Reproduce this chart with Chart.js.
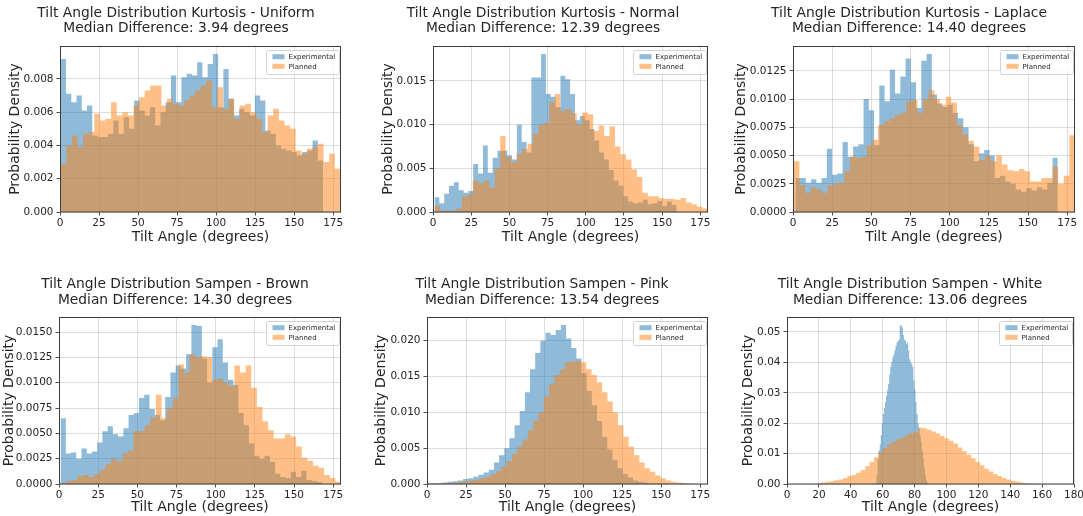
<!DOCTYPE html>
<html><head><meta charset="utf-8">
<script src="https://cdn.jsdelivr.net/npm/chart.js@4.4.1/dist/chart.umd.min.js"></script>
<style>
html,body{margin:0;padding:0;background:#fff;overflow:hidden;width:1083px;height:516px;position:relative;}
canvas{position:absolute;}
</style></head><body>
<script>
// ---------- DATA (histogram densities, 50 bins per series; ranges = [first edge, last edge]) ----------
const seriesLabels = ['Experimental', 'Planned'];

const uniformExpRange = [0.5, 168.5];
const uniformExp = [0.0092,0.0071,0.0066,0.0070,0.0061,0.0064,0.0046,0.0045,0.0045,0.0047,
 0.0055,0.0047,0.0057,0.0050,0.0067,0.0061,0.0058,0.0063,0.0052,0.0060,
 0.0066,0.0082,0.0066,0.0081,0.0083,0.0082,0.0090,0.0081,0.0089,0.0095,
 0.0063,0.0086,0.0068,0.0058,0.0062,0.0060,0.0058,0.0070,0.0067,0.0049,
 0.0047,0.0040,0.0038,0.0037,0.0036,0.0034,0.0036,0.0037,0.0043,0.0031];
const uniformPlanRange = [0.5, 179.6];
const uniformPlan = [0.0029,0.0040,0.0046,0.0039,0.0047,0.0048,0.0059,0.0055,0.0056,0.0066,
 0.0058,0.0060,0.0058,0.0064,0.0069,0.0073,0.0076,0.0076,0.0064,0.0068,
 0.0065,0.0064,0.0067,0.0070,0.0073,0.0076,0.0079,0.0063,0.0075,0.0062,
 0.0068,0.0056,0.0064,0.0065,0.0060,0.0056,0.0048,0.0058,0.0062,0.0055,
 0.0052,0.0050,0.0037,0.0035,0.0038,0.0039,0.0041,0.0030,0.0035,0.0026];

const normalExpRange = [1, 159.5];
const normalExp = [0.0017,0.0010,0.0021,0.0030,0.0034,0.0025,0.0022,0.0024,0.0055,0.0044,
 0.0076,0.0045,0.0062,0.0070,0.0070,0.0065,0.0060,0.0100,0.0080,0.0068,
 0.0154,0.0154,0.0181,0.0135,0.0132,0.0120,0.0156,0.0152,0.0135,0.0105,
 0.0110,0.0105,0.0095,0.0082,0.0068,0.0060,0.0048,0.0036,0.0030,0.0018,
 0.0012,0.0010,0.0011,0.0014,0.0009,0.0010,0.0013,0.0007,0.0012,0.0008];
const normalPlanRange = [1, 180];
const normalPlan = [0.0007,0.0002,0.0001,0.0002,0.0004,0.0018,0.0020,0.0036,0.0033,0.0036,
 0.0028,0.0050,0.0087,0.0063,0.0057,0.0066,0.0072,0.0078,0.0090,0.0100,
 0.0102,0.0126,0.0135,0.0116,0.0118,0.0113,0.0100,0.0114,0.0112,0.0093,
 0.0099,0.0087,0.0098,0.0075,0.0066,0.0060,0.0049,0.0040,0.0022,0.0018,
 0.0018,0.0016,0.0015,0.0015,0.0014,0.0016,0.0011,0.0009,0.0006,0.0004];

const laplaceExpRange = [1.5, 169];
const laplaceExp = [0.0030,0.0030,0.0026,0.0029,0.0026,0.0030,0.0056,0.0033,0.0034,0.0062,
 0.0049,0.0058,0.0060,0.0100,0.0090,0.0059,0.0112,0.0098,0.0126,0.0105,
 0.0120,0.0136,0.0115,0.0092,0.0134,0.0140,0.0104,0.0096,0.0093,0.0095,
 0.0088,0.0083,0.0075,0.0060,0.0045,0.0052,0.0055,0.0050,0.0030,0.0032,
 0.0027,0.0025,0.0020,0.0018,0.0021,0.0019,0.0022,0.0020,0.0026,0.0048];
const laplacePlanRange = [0.5, 180];
const laplacePlan = [0.0045,0.0024,0.0017,0.0022,0.0020,0.0017,0.0024,0.0025,0.0026,0.0036,
 0.0049,0.0048,0.0049,0.0059,0.0064,0.0077,0.0080,0.0083,0.0086,0.0088,
 0.0098,0.0099,0.0088,0.0100,0.0108,0.0100,0.0095,0.0102,0.0097,0.0077,
 0.0069,0.0063,0.0058,0.0046,0.0050,0.0045,0.0050,0.0042,0.0037,0.0036,
 0.0038,0.0036,0.0027,0.0027,0.0030,0.0030,0.0040,0.0025,0.0032,0.0068];

const brownExpRange = [1, 168];
const brownExp = [0.0065,0.0030,0.0031,0.0025,0.0035,0.0030,0.0032,0.0041,0.0052,0.0057,
 0.0049,0.0047,0.0055,0.0068,0.0070,0.0085,0.0088,0.0074,0.0068,0.0063,
 0.0086,0.0110,0.0117,0.0114,0.0128,0.0157,0.0156,0.0124,0.0100,0.0135,
 0.0143,0.0120,0.0103,0.0098,0.0070,0.0058,0.0040,0.0028,0.0025,0.0028,
 0.0022,0.0010,0.0007,0.0006,0.0012,0.0007,0.0013,0.0004,0.0003,0.0002];
const brownPlanRange = [1, 180];
const brownPlan = [0.0001,0.0003,0.0004,0.0008,0.0009,0.0007,0.0010,0.0014,0.0020,0.0025,
 0.0022,0.0030,0.0033,0.0052,0.0052,0.0058,0.0066,0.0088,0.0065,0.0075,
 0.0085,0.0118,0.0110,0.0128,0.0125,0.0126,0.0125,0.0103,0.0104,0.0100,
 0.0097,0.0117,0.0110,0.0117,0.0095,0.0076,0.0062,0.0053,0.0045,0.0045,
 0.0049,0.0047,0.0037,0.0026,0.0023,0.0018,0.0016,0.0009,0.0006,0.0002];

const pinkExpRange = [0, 165];
const pinkExp = [0.0001,0.0001,0.0001,0.0002,0.0003,0.0004,0.0005,0.0007,0.0008,0.0010,
 0.0013,0.0016,0.0020,0.0030,0.0040,0.0050,0.0064,0.0082,0.0102,0.0128,
 0.0160,0.0183,0.0200,0.0211,0.0208,0.0215,0.0222,0.0203,0.0190,0.0175,
 0.0155,0.0130,0.0110,0.0088,0.0066,0.0048,0.0033,0.0022,0.0014,0.0009,
 0.0005,0.0003,0.0002,0.0001,0.0001,0.0001,0.0001,0.0000,0.0000,0.0001];
const pinkPlanRange = [0, 170];
const pinkPlan = [0.0001,0.0001,0.0001,0.0001,0.0001,0.0002,0.0003,0.0004,0.0005,0.0006,
 0.0008,0.0010,0.0014,0.0018,0.0024,0.0032,0.0042,0.0052,0.0062,0.0075,
 0.0088,0.0100,0.0122,0.0140,0.0152,0.0160,0.0170,0.0171,0.0172,0.0170,
 0.0160,0.0152,0.0142,0.0128,0.0115,0.0100,0.0082,0.0066,0.0052,0.0040,
 0.0030,0.0022,0.0017,0.0012,0.0008,0.0005,0.0003,0.0002,0.0001,0.0001];

const whiteExpRange = [55.5, 88.5];
const whiteExp = [0.0005,0.0030,0.0080,0.0110,0.0130,0.0160,0.0200,0.0230,0.0250,0.0270,
 0.0290,0.0310,0.0330,0.0360,0.0385,0.0400,0.0415,0.0425,0.0440,0.0455,
 0.0465,0.0470,0.0475,0.0520,0.0523,0.0515,0.0490,0.0475,0.0470,0.0460,
 0.0465,0.0440,0.0410,0.0400,0.0395,0.0385,0.0340,0.0310,0.0270,0.0230,
 0.0200,0.0185,0.0160,0.0140,0.0110,0.0085,0.0055,0.0030,0.0012,0.0004];
const whitePlanRange = [18.5, 157];
const whitePlan = [0.0003,0.0005,0.0007,0.0009,0.0012,0.0015,0.0020,0.0026,0.0030,0.0037,
 0.0046,0.0058,0.0072,0.0088,0.0105,0.0118,0.0130,0.0140,0.0148,0.0152,
 0.0160,0.0168,0.0170,0.0185,0.0183,0.0178,0.0173,0.0166,0.0158,0.0150,
 0.0142,0.0133,0.0120,0.0108,0.0096,0.0085,0.0072,0.0062,0.0050,0.0041,
 0.0033,0.0026,0.0020,0.0015,0.0011,0.0008,0.0005,0.0003,0.0002,0.0001];

const panelTitles = [
  ['Tilt Angle Distribution Kurtosis - Uniform', 'Median Difference: 3.94 degrees'],
  ['Tilt Angle Distribution Kurtosis - Normal', 'Median Difference: 12.39 degrees'],
  ['Tilt Angle Distribution Kurtosis - Laplace', 'Median Difference: 14.40 degrees'],
  ['Tilt Angle Distribution Sampen - Brown', 'Median Difference: 14.30 degrees'],
  ['Tilt Angle Distribution Sampen - Pink', 'Median Difference: 13.54 degrees'],
  ['Tilt Angle Distribution Sampen - White', 'Median Difference: 13.06 degrees']
];
const yTickSteps = [0.002, 0.005, 0.0025, 0.0025, 0.005, 0.01];
const yTickDecimals = [3, 3, 4, 4, 3, 2];
const xTickSteps = [25, 25, 25, 25, 25, 20];
const xLimits = [0, 180];

const panelSeries = [
  [uniformExp, uniformExpRange, uniformPlan, uniformPlanRange],
  [normalExp, normalExpRange, normalPlan, normalPlanRange],
  [laplaceExp, laplaceExpRange, laplacePlan, laplacePlanRange],
  [brownExp, brownExpRange, brownPlan, brownPlanRange],
  [pinkExp, pinkExpRange, pinkPlan, pinkPlanRange],
  [whiteExp, whiteExpRange, whitePlan, whitePlanRange]
];

// ---------- LAYOUT (pixel boxes) ----------
const layouts = [
  {box:[0,0,352,250],    area:[60,46,341,212],   ylab:15,    xtitlePad:4.6, tPad:5.2},
  {box:[362,0,362,250],  area:[433,46,708,212],  ylab:388.3, xtitlePad:4.6, tPad:5.2},
  {box:[732,0,354,250],  area:[793,46,1075,212], ylab:741.7, xtitlePad:4.6, tPad:5.2},
  {box:[0,270,350,246],  area:[59,317,341,484],  ylab:9.5,   xtitlePad:0,   tPad:6.8},
  {box:[362,270,360,246],area:[427,317,708,484], ylab:381.7, xtitlePad:0,   tPad:6.8},
  {box:[737,270,346,246],area:[787,317,1074,484],ylab:748.3, xtitlePad:0,   tPad:6.8}
];

const FONT = 'DejaVu Sans';
const TXT = '#262626';
const COL_EXP = 'rgba(31,119,180,0.5)';
const COL_PLAN = 'rgba(255,127,14,0.5)';

function histPoints(range, vals) {
  const n = vals.length, w = (range[1] - range[0]) / n;
  const pts = [{x: range[0], y: 0}];
  vals.forEach((v, i) => pts.push({x: range[0] + i * w, y: v}));
  pts.push({x: range[1], y: vals[n - 1]});
  pts.push({x: range[1], y: 0});
  return pts;
}

const spinePlugin = {
  id: 'spines',
  afterDraw(chart) {
    const {ctx, chartArea: a} = chart;
    ctx.save();
    ctx.strokeStyle = '#3c3c3c';
    ctx.lineWidth = 1;
    ctx.strokeRect(Math.round(a.left) + 0.5, Math.round(a.top) + 0.5,
                   Math.round(a.right - a.left) - 1, Math.round(a.bottom - a.top) - 0.5);
    ctx.restore();
  }
};

const legendPlugin = {
  id: 'mplLegend',
  afterDraw(chart) {
    const {ctx, chartArea: a} = chart;
    const w = 73, h = 24;
    const x = Math.round(a.right - 2.5 - w) + 0.5, y = Math.round(a.top + 4) + 0.5;
    ctx.save();
    ctx.beginPath();
    ctx.roundRect(x, y, w, h, 2);
    ctx.fillStyle = 'rgba(255,255,255,0.8)';
    ctx.fill();
    ctx.strokeStyle = '#d2d2d2';
    ctx.lineWidth = 1;
    ctx.stroke();
    const cols = [COL_EXP, COL_PLAN];
    ctx.font = '7px "' + FONT + '"';
    ctx.textBaseline = 'middle';
    ctx.textAlign = 'left';
    seriesLabels.forEach((lab, i) => {
      const cy = y + 6.2 + i * 9.6;
      ctx.fillStyle = '#fff';
      ctx.fillRect(x + 6, cy - 2.5, 12, 5);
      ctx.fillStyle = cols[i];
      ctx.fillRect(x + 6, cy - 2.5, 12, 5);
      ctx.fillStyle = TXT;
      ctx.fillText(lab, x + 22, cy + 0.5);
    });
    ctx.restore();
  }
};

panelSeries.forEach((ser, p) => {
  const L = layouts[p];
  const [bl, bt, bw, bh] = L.box;
  const [al, at, ar, ab] = L.area;
  const cv = document.createElement('canvas');
  cv.width = bw; cv.height = bh;
  cv.style.left = bl + 'px'; cv.style.top = bt + 'px';
  cv.style.width = bw + 'px'; cv.style.height = bh + 'px';
  document.body.appendChild(cv);

  const ymax = Math.max(...ser[0], ...ser[2]) * 1.05;
  const titleLH = 13.8 * 1.12;
  const titleBottomPad = (at - bt) - L.tPad - 2 * titleLH;
  const dec = yTickDecimals[p];
  const padR = (bl + bw) - ar;

  new Chart(cv, {
    type: 'line',
    data: {
      datasets: [
        {label: seriesLabels[0], data: histPoints(ser[1], ser[0]), stepped: 'before',
         fill: 'origin', backgroundColor: COL_EXP, borderColor: 'transparent', borderWidth: 0,
         pointRadius: 0, order: 1},
        {label: seriesLabels[1], data: histPoints(ser[3], ser[2]), stepped: 'before',
         fill: 'origin', backgroundColor: COL_PLAN, borderColor: 'transparent', borderWidth: 0,
         pointRadius: 0, order: 0}
      ]
    },
    options: {
      responsive: false,
      animation: false,
      devicePixelRatio: 1,
      layout: {padding: 0},
      plugins: {
        legend: {display: false},
        tooltip: {enabled: false},
        title: {
          display: true, text: panelTitles[p], color: TXT,
          font: {family: FONT, size: 13.8, weight: 'normal', lineHeight: 1.12},
          padding: {top: L.tPad, bottom: titleBottomPad}
        }
      },
      scales: {
        x: {
          type: 'linear', min: xLimits[0], max: xLimits[1],
          afterFit(s) { s.height = (bt + bh) - ab; s.paddingLeft = 0; s.paddingRight = 0; },
          ticks: {stepSize: xTickSteps[p], includeBounds: false, autoSkip: false, maxRotation: 0,
                  color: TXT, padding: 1, font: {family: FONT, size: 10.5}},
          grid: {color: 'rgba(176,176,176,0.55)', lineWidth: 0.8, drawTicks: true,
                 tickLength: 3.5, tickColor: '#3c3c3c', tickWidth: 0.9},
          border: {display: false},
          title: {display: true, text: 'Tilt Angle (degrees)', color: TXT,
                  font: {family: FONT, size: 14, lineHeight: 1.2}, padding: {top: 0, bottom: L.xtitlePad}}
        },
        y: {
          type: 'linear', min: 0, max: ymax,
          afterFit(s) { s.width = al - bl; s.paddingTop = 0; s.paddingBottom = 0; },
          ticks: {stepSize: yTickSteps[p], includeBounds: false, color: TXT, padding: 3,
                  font: {family: FONT, size: 10.5},
                  callback: v => Number(v).toFixed(dec)},
          grid: {color: 'rgba(176,176,176,0.55)', lineWidth: 0.8, drawTicks: true,
                 tickLength: 3.5, tickColor: '#3c3c3c', tickWidth: 0.9},
          border: {display: false},
          title: {display: true, text: 'Probability Density', color: TXT,
                  font: {family: FONT, size: 14, lineHeight: 1.2},
                  padding: {top: Math.max(0, L.ylab - bl - 8.4), bottom: 0}}
        },
        y2: {
          type: 'linear', position: 'right', display: true,
          afterFit(s) { s.width = padR; s.paddingTop = 0; s.paddingBottom = 0; },
          ticks: {display: false},
          grid: {display: false, drawTicks: false},
          border: {display: false},
          title: {display: false}
        }
      }
    },
    plugins: [spinePlugin, legendPlugin]
  });
});
</script>
</body></html>
